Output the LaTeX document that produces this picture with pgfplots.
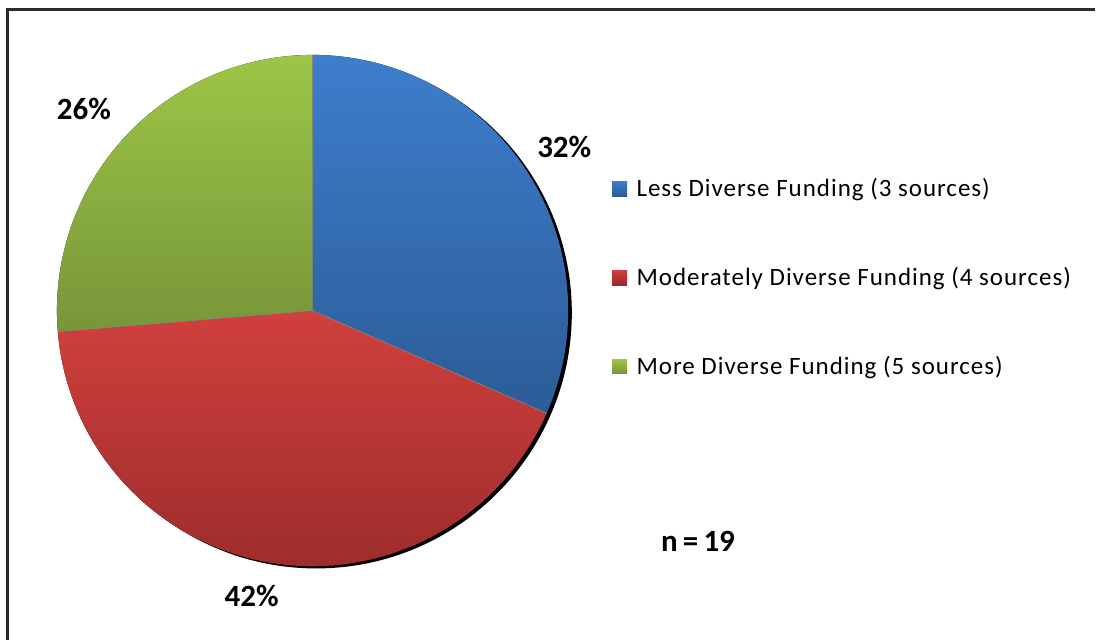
\documentclass[border=0pt]{standalone}
\usepackage{pgfplots}
\usepackage{pgfplotstable}
\pgfplotsset{compat=1.18}
\usepackage{fontspec}
\setmainfont{Carlito}
\newfontfamily\legfont[LetterSpace=4]{Carlito}

\definecolor{blueTop}{HTML}{3D7ECC}
\definecolor{blueBot}{HTML}{2C5C98}
\definecolor{redTop}{HTML}{D1403D}
\definecolor{redBot}{HTML}{962A29}
\definecolor{greenTop}{HTML}{9DC646}
\definecolor{greenBot}{HTML}{77963A}
\definecolor{frame}{HTML}{2B2B2B}

% counts per group (n = 19) and the shown percentages
\pgfplotstableread{
group count pct
less 6 32
moderate 8 42
more 5 26
}\piedata

\begin{document}
\begin{tikzpicture}
\pgfplotstablegetelem{0}{count}\of\piedata \edef\cA{\pgfplotsretval}
\pgfplotstablegetelem{1}{count}\of\piedata \edef\cB{\pgfplotsretval}
\pgfplotstablegetelem{2}{count}\of\piedata \edef\cC{\pgfplotsretval}
\pgfplotstablegetelem{0}{pct}\of\piedata \edef\pA{\pgfplotsretval}
\pgfplotstablegetelem{1}{pct}\of\piedata \edef\pB{\pgfplotsretval}
\pgfplotstablegetelem{2}{pct}\of\piedata \edef\pC{\pgfplotsretval}
\pgfmathsetmacro\tot{\cA+\cB+\cC}
\pgfmathsetmacro\aA{90}
\pgfmathsetmacro\aB{\aA-360*\cA/\tot}
\pgfmathsetmacro\aC{\aB-360*\cB/\tot}
\pgfmathsetmacro\aD{\aC-360*\cC/\tot}
\def\R{128pt}
\begin{axis}[
  scale only axis, width=548pt, height=320.5pt,
  xmin=0, xmax=1096, ymin=0, ymax=641,
  axis lines=none, clip=false,
  ]
  \path (axis cs:0,0) rectangle (axis cs:1096,641);
  % frame (only top and left edges are visible)
  \draw[line width=1.5pt, frame] (axis cs:7.5,0) -- (axis cs:7.5,631.5) -- (axis cs:1096,631.5);
  % shadow
  \fill[black] ([shift={(1.8pt,-1.1pt)}]axis cs:313,330) circle[radius=\R];
  % slices
  \fill[top color=blueTop, bottom color=blueBot]
    (axis cs:313,330) -- ++(\aA:\R) arc[start angle=\aA, end angle=\aB, radius=\R] -- cycle;
  \fill[top color=redTop, bottom color=redBot]
    (axis cs:313,330) -- ++(\aB:\R) arc[start angle=\aB, end angle=\aC, radius=\R] -- cycle;
  \fill[top color=greenTop, bottom color=greenBot]
    (axis cs:313,330) -- ++(\aC:\R) arc[start angle=\aC, end angle=\aD, radius=\R] -- cycle;
  \draw[line width=0.3pt, black!45] (axis cs:313,330) -- ++(\aA:\R)
    (axis cs:313,330) -- ++(\aB:\R) (axis cs:313,330) -- ++(\aC:\R);
  % percentage labels
  \begin{scope}[every node/.style={inner sep=0pt, anchor=base, font=\fontsize{15.5}{18}\selectfont\bfseries}]
    \node at (axis cs:565,483) {\pA\%};
    \node at (axis cs:252,34) {\pB\%};
    \node at (axis cs:84,521) {\pC\%};
    \node at (axis cs:699,89) {n\,=\,19};
  \end{scope}
  % legend
  \fill[top color=blueTop, bottom color=blueBot] (axis cs:613,444.5) rectangle (axis cs:628,459.5);
  \fill[top color=redTop, bottom color=redBot] (axis cs:613,355.5) rectangle (axis cs:628,370.5);
  \fill[top color=greenTop, bottom color=greenBot] (axis cs:613,266.5) rectangle (axis cs:628,281.5);
  \begin{scope}[every node/.style={inner sep=0pt, anchor=base west, font=\fontsize{12.5}{15}\legfont}]
    \node at (axis cs:637,444) {Less Diverse Funding (3 sources)};
    \node at (axis cs:637,355) {Moderately Diverse Funding (4 sources)};
    \node at (axis cs:637,266) {More Diverse Funding (5 sources)};
  \end{scope}
\end{axis}
\end{tikzpicture}
\end{document}
